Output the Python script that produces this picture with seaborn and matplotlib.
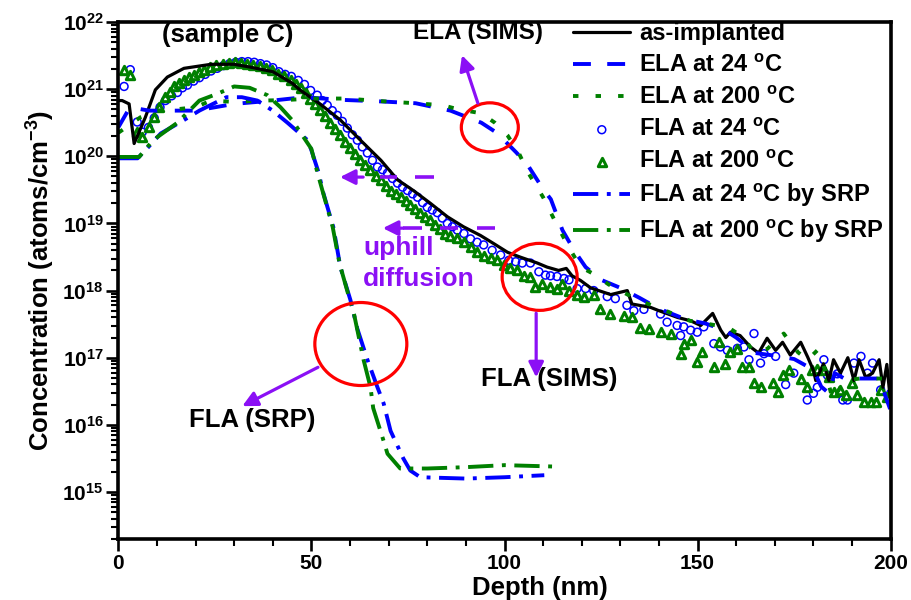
import numpy as np
import matplotlib
matplotlib.use("Agg")
import matplotlib.pyplot as plt
from matplotlib.patches import Ellipse
from matplotlib.ticker import MultipleLocator, LogLocator, FixedLocator, FuncFormatter, NullFormatter
import seaborn as sns

# ---- depth profiles: (depth in nm, log10 of concentration in atoms/cm^3) ----
as_implanted = [(0, 20.83), (1, 20.83), (2.8, 20.78), (4.1, 20.19), (7, 20.58), (9.6, 20.99), (12.7, 21.18),
                (17, 21.31), (24, 21.37), (30, 21.37), (34, 21.33), (40, 21.26), (45, 21.09), (47, 20.99),
                (52, 20.79), (57.5, 20.54), (62.7, 20.24), (68, 19.94), (72.3, 19.65), (76.4, 19.49),
                (80.8, 19.3), (85.2, 19.1), (89.4, 18.95), (93.8, 18.82), (97.2, 18.7), (100.8, 18.57),
                (104, 18.5), (108.5, 18.41), (111, 18.35), (114, 18.3), (116, 18.33), (117.5, 18.22),
                (119.7, 18.15), (122.3, 18.04), (127.5, 17.94), (131.8, 18.0), (133, 17.8), (137.8, 17.75),
                (140, 17.7), (144.8, 17.6), (148.2, 17.55), (150.8, 17.48), (153.9, 17.66), (156, 17.41),
                (157.3, 17.3), (158.5, 17.38), (161, 17.33), (163.7, 17.16), (165.8, 17.07), (168, 17.29),
                (170.2, 17.11), (172, 17.23), (174, 17.04), (176.7, 17.23), (178.5, 17.01), (180, 16.81),
                (180.6, 16.66), (182.6, 16.91), (184, 16.66), (185.2, 16.97), (187, 16.77), (188.9, 17.0),
                (190.5, 16.66), (191.8, 16.97), (193.5, 16.71), (195.3, 16.77), (197, 16.97), (198, 16.56),
                (199, 16.9), (200, 16.32)]

ela_24 = [(0, 20.43), (3, 20.73), (8, 20.68), (20, 20.68), (30, 20.78), (40, 20.83), (48, 20.88), (58, 20.84),
          (67, 20.82), (77, 20.79), (86, 20.68), (94, 20.5), (98, 20.35), (103, 20.06), (106, 19.87),
          (110, 19.51), (112, 19.36), (115, 18.9), (118, 18.6), (121, 18.35), (125, 18.16), (130, 18.04),
          (135, 17.89), (140, 17.73), (147, 17.57), (152, 17.51), (157, 17.41), (160, 17.3), (165, 17.07),
          (170, 17.03), (175, 16.98), (180, 16.82), (182, 16.57), (184, 16.47), (185.5, 16.77), (188, 16.69),
          (197, 16.69), (200, 16.21)]

ela_200 = [(0, 20.35), (2, 20.43), (5.7, 20.58), (10, 20.68), (15, 20.7), (20, 20.73), (24, 20.83), (30, 20.81),
           (38, 20.83), (44, 20.84), (50, 20.86), (59, 20.86), (66, 20.83), (71, 20.81), (77, 20.79), (84, 20.76),
           (88, 20.7), (94, 20.64), (97.5, 20.5), (100.8, 20.31), (103.6, 20.06), (106.2, 19.75), (110, 19.39),
           (113.2, 19.02), (116.6, 18.65), (119.7, 18.35), (123, 18.25), (127, 18.09), (134.5, 17.86),
           (139.6, 17.75), (148, 17.55), (155, 17.48), (158.5, 17.43), (162, 17.3), (164.5, 17.08), (168, 17.13),
           (172.3, 17.36), (176, 17.08), (178.5, 16.97), (181, 17.11), (183, 16.82), (185, 16.37), (188, 16.66),
           (192, 16.69), (196, 16.69), (200, 16.69)]

fla_24 = [(1.5, 21.04), (3.1, 21.29), (4.9, 20.51), (6.2, 20.36), (7.8, 20.43), (9.3, 20.57), (10.8, 20.73),
          (12.2, 20.83), (13.8, 20.9), (15.3, 20.95), (16.6, 21.02), (17.9, 21.06), (19.5, 21.12), (21, 21.17),
          (22.5, 21.22), (24, 21.27), (25.6, 21.31), (27.2, 21.35), (28.8, 21.38), (30.4, 21.4), (32, 21.41),
          (33.6, 21.41), (35.2, 21.4), (36.8, 21.38), (38.4, 21.36), (40, 21.32), (41.6, 21.26), (43.2, 21.22),
          (44.8, 21.19), (46.6, 21.13), (48.2, 21.07), (49.8, 20.98), (51.5, 20.91), (52.8, 20.83), (54.1, 20.76),
          (55.4, 20.68), (56.7, 20.61), (58, 20.52), (59.3, 20.42), (60.6, 20.32), (61.9, 20.24), (63.2, 20.14),
          (64.5, 20.05), (65.8, 19.94), (67.1, 19.84), (68.4, 19.8), (69.7, 19.75), (71, 19.67), (72.3, 19.6),
          (73.6, 19.54), (74.9, 19.49), (76.2, 19.44), (77.5, 19.39), (78.8, 19.31), (80, 19.24), (81.3, 19.2),
          (82.6, 19.16), (83.9, 19.08), (85.2, 19.0), (86.5, 18.95), (87.8, 18.9), (89.5, 18.85), (91.2, 18.77),
          (92.9, 18.72), (94.6, 18.68), (96.8, 18.6), (99, 18.53), (101.1, 18.45), (102.9, 18.43), (104.6, 18.41),
          (106.7, 18.41), (108.9, 18.28), (110.6, 18.23), (111.9, 18.22), (113.6, 18.21), (115.4, 18.18),
          (116.7, 18.16), (118.8, 18.03), (121, 18.03), (123.1, 18.0), (126.6, 17.91), (128.7, 17.88),
          (131.7, 17.78), (133.5, 17.7), (136.1, 17.72), (140.4, 17.65), (142.1, 17.53), (144.7, 17.48),
          (145.6, 17.33), (146.4, 17.46), (148.2, 17.41), (149.9, 17.38), (151.6, 17.46), (154.2, 17.21),
          (155.9, 17.16), (157.7, 17.11), (160.3, 17.14), (162, 17.16), (163.3, 16.97), (164.6, 17.36),
          (166.3, 16.92), (167.2, 17.06), (170.2, 17.02), (172.8, 16.6), (174.9, 16.77), (178.4, 16.37),
          (180, 16.47), (181, 16.56), (182.7, 16.97), (183.6, 16.74), (186.2, 16.76), (187.6, 16.37),
          (188.8, 16.37), (190.5, 16.92), (192.3, 17.02), (194, 16.77), (195.3, 16.92), (197.4, 16.52),
          (200, 16.47)]

fla_200 = [(1.6, 21.29), (3.1, 21.21), (4.9, 20.36), (6.2, 20.28), (8, 20.44), (9.3, 20.58), (10.6, 20.73),
           (12.2, 20.88), (13.4, 20.96), (14.5, 21.04), (15.8, 21.09), (17.1, 21.14), (18.4, 21.18), (19.7, 21.21),
           (21, 21.25), (22.3, 21.29), (23.8, 21.33), (25.4, 21.36), (27, 21.38), (28.6, 21.39), (30.2, 21.4),
           (31.8, 21.39), (33.4, 21.38), (35, 21.36), (36.6, 21.34), (38.2, 21.31), (39.8, 21.28), (41.4, 21.23),
           (42.8, 21.19), (44.6, 21.14), (45.9, 21.08), (47.2, 21.02), (48.5, 20.94), (49.7, 20.86), (51, 20.78),
           (52.3, 20.69), (53.6, 20.6), (54.9, 20.5), (56.2, 20.41), (57.5, 20.31), (58.8, 20.22), (60.1, 20.13),
           (61.4, 20.03), (62.7, 19.94), (64, 19.87), (65.3, 19.8), (66.6, 19.71), (67.9, 19.64), (69.2, 19.56),
           (70.5, 19.49), (71.8, 19.44), (73.1, 19.39), (74.4, 19.33), (75.6, 19.27), (76.9, 19.21), (78.2, 19.16),
           (79.5, 19.1), (80.8, 19.05), (82.1, 18.98), (83.4, 18.92), (84.7, 18.85), (86, 18.81), (87.7, 18.78),
           (89.5, 18.73), (91.2, 18.65), (92.9, 18.58), (94.6, 18.52), (96.4, 18.48), (98.1, 18.45), (99.8, 18.38),
           (101.5, 18.33), (103.3, 18.31), (105, 18.22), (106.7, 18.2), (108, 18.05), (109.7, 18.1), (111.9, 18.05),
           (113.6, 18.03), (114.9, 18.1), (116.7, 18.0), (118.8, 17.93), (120.5, 17.9), (123.1, 17.93),
           (124.8, 17.72), (127.4, 17.65), (130.9, 17.62), (133.1, 17.6), (135.2, 17.45), (137.4, 17.43),
           (140.4, 17.38), (143, 17.36), (145.6, 17.06), (146.4, 17.21), (148.2, 17.26), (149.9, 16.94),
           (151.2, 17.09), (154.2, 16.86), (155.5, 17.24), (157.2, 16.91), (158.5, 17.08), (160.3, 17.13),
           (161.6, 16.86), (163.3, 16.86), (164.6, 16.62), (166.3, 16.57), (169.4, 16.62), (170.7, 16.49),
           (172, 16.74), (173.7, 16.81), (176.7, 16.69), (178.3, 16.57), (179.7, 16.81), (181, 16.83),
           (182.7, 16.81), (184, 16.71), (185.3, 16.49), (187, 16.52), (188.3, 16.44), (190, 16.62),
           (191.3, 16.44), (193.1, 16.34), (194.8, 16.34), (196.1, 16.34), (197.4, 16.52), (199.1, 16.42)]

srp_24 = [(0, 19.97), (5, 19.97), (7.5, 20.12), (11, 20.34), (17, 20.54), (21, 20.68), (28, 20.88), (32, 20.88),
          (36, 20.83), (40, 20.68), (43.8, 20.5), (49, 20.24), (50, 20.09), (51.8, 19.77), (53.1, 19.45),
          (55.7, 18.94), (57.5, 18.35), (60.1, 17.86), (61.9, 17.43), (64.5, 16.97), (67.1, 16.56), (68.7, 16.32),
          (70.5, 15.91), (73.8, 15.5), (75.6, 15.32), (78.2, 15.22), (90, 15.2), (100, 15.22), (110.3, 15.25)]

srp_200 = [(0, 19.99), (5.4, 19.99), (9, 20.24), (15.3, 20.5), (21, 20.83), (25.6, 20.93), (30, 21.04), (34, 21.02),
           (38.6, 20.91), (42, 20.73), (45, 20.54), (50, 20.11), (51.5, 19.77), (53, 19.46), (55.5, 18.95),
           (57.3, 18.4), (59.8, 17.89), (61, 17.66), (63.5, 16.97), (65.3, 16.56), (66, 16.25), (68.7, 15.76),
           (69.7, 15.57), (73, 15.35), (80, 15.35), (90, 15.37), (100, 15.4), (112.4, 15.38)]

labels = ["as-implanted",
          r"ELA at 24 $^{\mathrm{o}}$C",
          r"ELA at 200 $^{\mathrm{o}}$C",
          r"FLA at 24 $^{\mathrm{o}}$C",
          r"FLA at 200 $^{\mathrm{o}}$C",
          r"FLA at 24 $^{\mathrm{o}}$C by SRP",
          r"FLA at 200 $^{\mathrm{o}}$C by SRP"]


def split(profile):
    d = np.array(profile, dtype=float)
    return d[:, 0], 10.0 ** d[:, 1]


sns.set_style("ticks")
plt.rcParams["font.family"] = ["Liberation Sans", "DejaVu Sans"]
plt.rcParams["font.weight"] = "bold"
plt.rcParams["axes.labelweight"] = "bold"
plt.rcParams["text.color"] = "black"
plt.rcParams["axes.labelcolor"] = "black"
plt.rcParams["axes.edgecolor"] = "black"
plt.rcParams["xtick.color"] = "black"
plt.rcParams["ytick.color"] = "black"
plt.rcParams["mathtext.fontset"] = "custom"
plt.rcParams["mathtext.rm"] = "Liberation Sans:bold"
plt.rcParams["mathtext.bf"] = "Liberation Sans:bold"
plt.rcParams["mathtext.it"] = "Liberation Sans:bold:italic"
plt.rcParams["mathtext.default"] = "rm"

BLUE = "#0000ff"
GREEN = "#008000"
PURPLE = "#8b10f5"
RED = "#ff0000"

fig = plt.figure(figsize=(9.12, 6.0), dpi=100)
ax = fig.add_axes([118.3 / 912, 1 - 539 / 600, 772.4 / 912, 517 / 600])
ax.set_yscale("log")

x, y = split(as_implanted)
sns.lineplot(x=x, y=y, ax=ax, color="black", lw=2.3, estimator=None, sort=False, label=labels[0])
x, y = split(ela_24)
sns.lineplot(x=x, y=y, ax=ax, color=BLUE, lw=2.8, linestyle=(0, (4.6, 4.2)), estimator=None, sort=False,
             label=labels[1])
x, y = split(ela_200)
sns.lineplot(x=x, y=y, ax=ax, color=GREEN, lw=2.8, linestyle=(0, (1.4, 4.4)), estimator=None, sort=False,
             label=labels[2])
x, y = split(fla_24)
sns.scatterplot(x=x, y=y, ax=ax, marker="o", s=32, facecolor="none", edgecolor=BLUE, linewidth=1.1,
                label=labels[3])
x, y = split(fla_200)
sns.scatterplot(x=x, y=y, ax=ax, marker="^", s=36, facecolor="white", edgecolor=GREEN, linewidth=2.2,
                label=labels[4])
x, y = split(srp_24)
sns.lineplot(x=x, y=y, ax=ax, color=BLUE, lw=2.8, linestyle=(0, (6.5, 2.2, 1.0, 2.2)), estimator=None,
             sort=False, label=labels[5])
x, y = split(srp_200)
sns.lineplot(x=x, y=y, ax=ax, color=GREEN, lw=2.8, linestyle=(0, (6.5, 2.2, 1.0, 2.2)), estimator=None,
             sort=False, label=labels[6])

# ---- axes ----
ax.set_xlim(0, 200)
ax.set_ylim(10 ** 14.3, 1e22)
ax.xaxis.set_major_locator(MultipleLocator(50))
ax.xaxis.set_minor_locator(MultipleLocator(10))
ax.yaxis.set_major_locator(FixedLocator([10.0 ** k for k in range(15, 23)]))
ax.yaxis.set_minor_locator(LogLocator(base=10, subs=np.arange(2, 10), numticks=30))
ax.yaxis.set_major_formatter(FuncFormatter(lambda v, p: r"$10^{%d}$" % round(np.log10(v))))
ax.yaxis.set_minor_formatter(NullFormatter())
ax.tick_params(axis="both", which="major", direction="out", length=8.5, width=1.9, labelsize=15, pad=2)
ax.tick_params(axis="both", which="minor", direction="out", length=5, width=1.5)
for s in ax.spines.values():
    s.set_linewidth(2.6)
    s.set_color("black")
    s.set_visible(True)

ax.set_xlabel("Depth (nm)", fontsize=18.5, fontweight="bold")
ax.xaxis.set_label_coords(0.546, -0.072)
ax.set_ylabel(r"Concentration (atoms/cm$^{-3}$)", fontsize=18.5, fontweight="bold", labelpad=4)

leg = ax.legend(loc="upper left", bbox_to_anchor=(0.589, 1.0), frameon=False, fontsize=17,
                handlelength=2.42, handletextpad=0.38, labelspacing=0.38, borderpad=0, borderaxespad=0)
for t in leg.get_texts():
    t.set_fontweight("bold")
    t.set_color("black")

# ---- annotations ----
def to_axes(xd, yd):
    disp = ax.transData.transform((xd, yd))
    return ax.transAxes.inverted().transform(disp)


W, H = 772.4, 517.0
for (xc, yc, w, h) in [(96.2, 2.7e20, 57, 49), (109.1, 1.6e18, 75, 67), (62.8, 1.6e17, 92, 83)]:
    cx, cy = to_axes(xc, yc)
    ax.add_patch(Ellipse((cx, cy), w / W, h / H, transform=ax.transAxes, fill=False, ec=RED, lw=2.3,
                         zorder=6))

arrow_kw = dict(arrowstyle="-|>,head_length=0.9,head_width=0.45", color=PURPLE, lw=2.3,
                shrinkA=0, shrinkB=0)
ax.annotate("", xy=(89.0, 3.2e21), xytext=(93.1, 6.2e20), arrowprops=arrow_kw, zorder=7)
ax.annotate("", xy=(108.2, 5.1e16), xytext=(108.2, 4.6e17), arrowprops=arrow_kw, zorder=7)
ax.annotate("", xy=(32.1, 1.9e16), xytext=(51.7, 7.2e16), arrowprops=arrow_kw, zorder=7)

# dashed "uphill diffusion" arrows
ax.annotate("", xy=(57.4, 4.9e19), xytext=(63.4, 4.9e19), arrowprops=arrow_kw, zorder=7)
for a, b in [(67.8, 72.2), (76.8, 81.8)]:
    ax.plot([a, b], [4.9e19, 4.9e19], color=PURPLE, lw=2.6, solid_capstyle="butt", zorder=7)
ax.annotate("", xy=(68.5, 8.5e18), xytext=(73.7, 8.5e18), arrowprops=arrow_kw, zorder=7)
for a, b in [(73.7, 78.6), (83.3, 88.0), (92.9, 97.5)]:
    ax.plot([a, b], [8.5e18, 8.5e18], color=PURPLE, lw=2.6, solid_capstyle="butt", zorder=7)

txt = dict(fontweight="bold", ha="center", va="center", color="black", zorder=8)
ax.text(28.4, 6.4e21, "(sample C)", fontsize=18.5, **txt)
ax.text(93.1, 6.9e21, "ELA (SIMS)", fontsize=17.5, **txt)
ax.text(111.5, 4.9e16, "FLA (SIMS)", fontsize=18.5, **txt)
ax.text(34.6, 1.2e16, "FLA (SRP)", fontsize=18.5, **txt)
ax.text(63.4, 4.3e18, "uphill", fontsize=19, color=PURPLE, fontweight="bold", ha="left", va="center", zorder=8)
ax.text(63.4, 1.5e18, "diffusion", fontsize=19, color=PURPLE, fontweight="bold", ha="left", va="center",
        zorder=8)

fig.savefig("out.png", dpi=100)
